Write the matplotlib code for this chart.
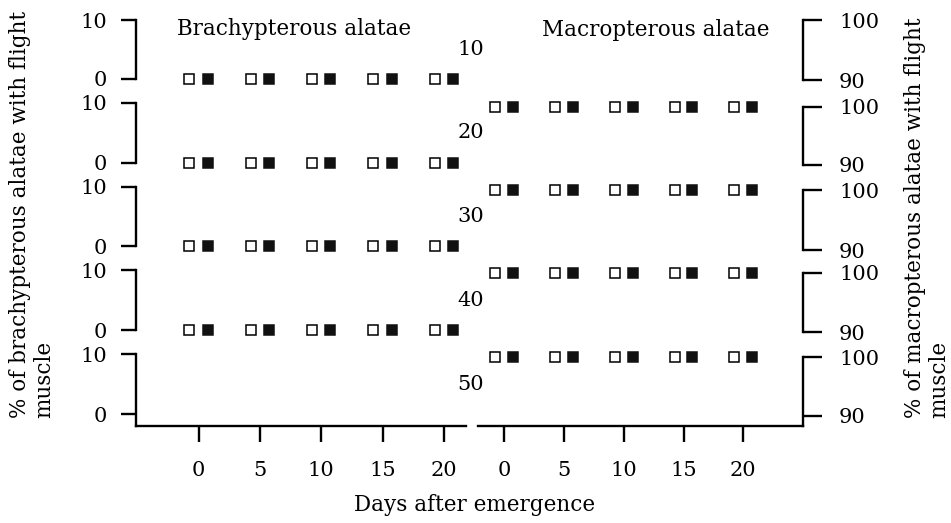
import numpy as np
import matplotlib.pyplot as plt

plt.rcParams["font.family"] = ["DejaVu Serif"]

# ── data ──────────────────────────────────────────────────────────────
days = [0, 5, 10, 15, 20]
temps = [10, 20, 30, 40, 50]

# % with flight muscle per temperature row (None = no points drawn)
brachy_open = [[0, 0, 0, 0, 0], [0, 0, 0, 0, 0], [0, 0, 0, 0, 0], [0, 0, 0, 0, 0], None]
brachy_filled = [[0, 0, 0, 0, 0], [0, 0, 0, 0, 0], [0, 0, 0, 0, 0], [0, 0, 0, 0, 0], None]
macro_open = [None, [100, 100, 100, 100, 100], [100, 100, 100, 100, 100],
              [100, 100, 100, 100, 100], [100, 100, 100, 100, 100]]
macro_filled = [None, [100, 100, 100, 100, 100], [100, 100, 100, 100, 100],
                [100, 100, 100, 100, 100], [100, 100, 100, 100, 100]]

# ── layout (pixels) ───────────────────────────────────────────────────
W, H = 951, 523
left_x = (136, 466)
right_x = (478, 803)
left_rows = [(20, 79), (103, 163), (187, 246), (270, 330), (354, 426)]
right_rows = [(20, 80), (107, 165), (190, 250), (273, 332), (357, 426)]
FS = 15.5      # titles / labels
TFS = 15       # tick labels


def box(x0, x1, top, bot):
    return [x0 / W, 1 - bot / H, (x1 - x0) / W, (bot - top) / H]


def _markers(ax, vals):
    if vals is None:
        return
    d = np.array(days, dtype=float)
    ax.plot(d - 0.75, vals[0], "s", mfc="white", mec="black", ms=7.5, mew=1.1, clip_on=False)
    ax.plot(d + 0.75, vals[1], "s", mfc="#111111", mec="#111111", ms=7.5, mew=1.1, clip_on=False)


fig = plt.figure(figsize=(W / 100, H / 100), dpi=100)

for i in range(5):
    last = i == 4
    # left column: brachypterous
    ax = fig.add_axes(box(*left_x, *left_rows[i]))
    ax.patch.set_alpha(0)
    ax.set_xlim(-5.1, 21.8)
    ax.set_ylim(-2 if last else 0, 10)
    for s in ("top", "right"):
        ax.spines[s].set_visible(False)
    ax.spines["bottom"].set_visible(last)
    for s in ax.spines.values():
        s.set_linewidth(1.7)
    ax.set_yticks([0, 10])
    ax.tick_params(axis="y", direction="out", length=11, width=1.7, pad=10, labelsize=TFS)
    if last:
        ax.set_xticks(days)
        ax.tick_params(axis="x", direction="out", length=11.5, width=1.7, pad=14, labelsize=TFS)
    else:
        ax.set_xticks([])
    _markers(ax, None if brachy_open[i] is None else (brachy_open[i], brachy_filled[i]))
    ax.text(1.015, 5, str(temps[i]), transform=ax.get_yaxis_transform(),
            ha="center", va="center", fontsize=TFS)
    if i == 0:
        ax.text(0.124, 0.85, "Brachypterous alatae", transform=ax.transAxes,
                ha="left", va="center", fontsize=FS)

    # right column: macropterous
    ax = fig.add_axes(box(*right_x, *right_rows[i]))
    ax.patch.set_alpha(0)
    ax.set_xlim(-2.2, 25.0)
    ax.set_ylim(88.3 if last else 90, 100)
    for s in ("top", "left"):
        ax.spines[s].set_visible(False)
    ax.spines["bottom"].set_visible(last)
    for s in ax.spines.values():
        s.set_linewidth(1.7)
    ax.yaxis.tick_right()
    ax.set_yticks([90, 100])
    ax.tick_params(axis="y", direction="out", length=14, width=1.7, pad=12, labelsize=TFS)
    if last:
        ax.set_xticks(days)
        ax.tick_params(axis="x", direction="out", length=11.5, width=1.7, pad=14, labelsize=TFS)
    else:
        ax.set_xticks([])
    _markers(ax, None if macro_open[i] is None else (macro_open[i], macro_filled[i]))
    if i == 0:
        ax.text(0.197, 0.83, "Macropterous alatae", transform=ax.transAxes,
                ha="left", va="center", fontsize=FS)

fig.text(0.0336, 0.2, "% of brachypterous alatae with flight\nmuscle", rotation=90,
         ha="center", va="bottom", multialignment="left", fontsize=FS, linespacing=1.15)
fig.text(0.975, 0.2, "% of macropterous alatae with flight\nmuscle", rotation=90,
         ha="center", va="bottom", multialignment="left", fontsize=FS, linespacing=1.15)
fig.text(0.4995, 0.034, "Days after emergence", ha="center", va="center", fontsize=FS)

fig.savefig("out.png", dpi=100, facecolor="white")
plt.close(fig)
